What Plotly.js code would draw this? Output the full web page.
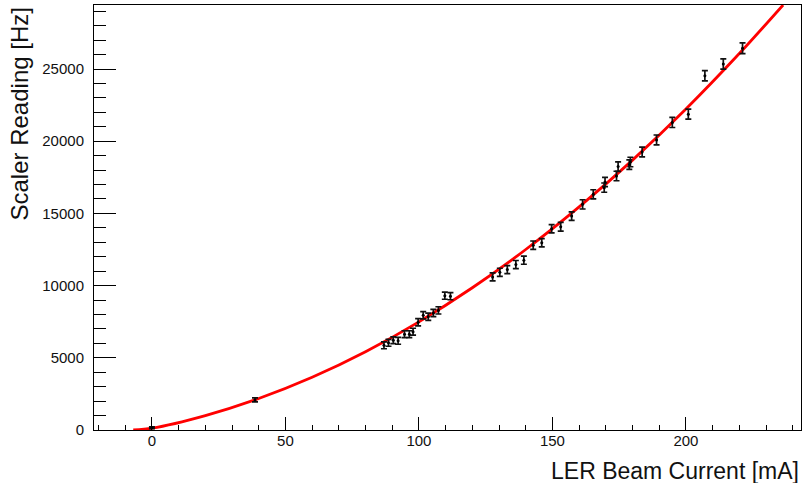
<!DOCTYPE html>
<html>
<head>
<meta charset="utf-8">
<script src="https://cdn.plot.ly/plotly-3.0.1.min.js"></script>
<style>
  html, body { margin: 0; padding: 0; background: #ffffff; }
  #chart { width: 803px; height: 483px; }
</style>
</head>
<body>
<div id="chart"></div>
<script>
// Measured data points: LER beam current [mA] vs scaler reading [Hz]
const beamCurrent = [0, 38.6,
  86.9, 88.6, 90.4, 92.2, 94.6, 96.4, 97.8, 99.7, 101.6, 103.5, 105.4, 107.3, 109.7, 111.8,
  127.6, 130.3, 133.1, 136.3, 139.3, 142.8, 146.0, 149.7, 153.1, 157.2,
  161.3, 165.3, 169.4, 169.7, 174.0, 174.6, 178.8, 179.2, 183.6, 189.0,
  194.9, 200.9, 207.1, 214.0, 221.2];
const scalerRate = [150, 2083,
  5868, 6041, 6215, 6180, 6632, 6632, 6805, 7465, 7951, 7847, 8104, 8284, 9305, 9270,
  10604, 10923, 11110, 11458, 11757, 12798, 12965, 13937, 14076, 14812,
  15625, 16319, 16784, 17177, 17590, 18242, 18380, 18560, 19256, 20090,
  21297, 21874, 24533, 25346, 26436];
const rateError = [60, 140,
  240, 240, 240, 240, 240, 240, 240, 250, 250, 250, 250, 250, 250, 250,
  280, 280, 280, 280, 280, 290, 290, 290, 300, 300,
  320, 320, 320, 320, 330, 330, 330, 330, 340, 340,
  350, 350, 360, 360, 370];

// Fit curve
const fitCurrent = [-7, 0, 20, 40, 60, 80, 100, 120, 140, 160, 180, 200, 220, 236.4];
const fitRate    = [0, 125, 1000, 2180, 3650, 5420, 7490, 9850, 12500, 15450, 18690, 22230, 26070, 29432];

// Axis tick labels
const xTickVals = [0, 50, 100, 150, 200];
const yTickVals = [0, 5000, 10000, 15000, 20000, 25000];

const FONT = "Liberation Sans, Arial, Helvetica, sans-serif";

const traces = [
  {
    x: fitCurrent, y: fitRate,
    type: 'scatter', mode: 'lines',
    line: {color: '#ff0000', width: 2.8, shape: 'spline', smoothing: 0.8},
    hoverinfo: 'skip', showlegend: false
  },
  {
    x: beamCurrent, y: scalerRate,
    type: 'scatter', mode: 'markers',
    marker: {color: '#000000', size: 3},
    error_y: {type: 'data', array: rateError, visible: true, color: '#111111', thickness: 1.7, width: 3},
    showlegend: false
  }
];

const layout = {
  width: 803, height: 483,
  margin: {l: 94, r: 2, t: 5, b: 53},
  paper_bgcolor: '#ffffff', plot_bgcolor: '#ffffff',
  font: {family: FONT, color: '#111111', size: 15},
  showlegend: false,
  xaxis: {
    range: [-21.7, 243.1],
    tickvals: xTickVals, ticktext: xTickVals.map(String),
    ticks: 'inside', ticklen: 13, tickwidth: 1, tickcolor: '#000',
    minor: {dtick: 10, tick0: 0, ticks: 'inside', ticklen: 5, tickwidth: 1, tickcolor: '#000', showgrid: false},
    showline: true, linecolor: '#000', linewidth: 1, mirror: true,
    showgrid: false, zeroline: false,
    ticklabelstandoff: -3,
    tickfont: {family: FONT, size: 15, color: '#111'}
  },
  yaxis: {
    range: [0, 29432],
    tickvals: yTickVals, ticktext: yTickVals.map(String),
    ticks: 'inside', ticklen: 22, tickwidth: 1, tickcolor: '#000',
    minor: {dtick: 1000, tick0: 0, ticks: 'inside', ticklen: 12, tickwidth: 1, tickcolor: '#000', showgrid: false},
    showline: true, linecolor: '#000', linewidth: 1, mirror: true,
    showgrid: false, zeroline: false,
    ticklabelstandoff: 6,
    tickfont: {family: FONT, size: 15, color: '#111'}
  },
  annotations: [
    {
      text: 'LER Beam Current [mA]',
      xref: 'paper', yref: 'paper', x: 1, y: 0,
      xanchor: 'right', yanchor: 'top', yshift: -26,
      showarrow: false,
      font: {family: FONT, size: 23, color: '#111'}
    },
    {
      text: 'Scaler Reading [Hz]',
      xref: 'paper', yref: 'paper', x: 0, y: 1,
      xanchor: 'center', yanchor: 'top', xshift: -75, yshift: -1,
      textangle: -90,
      showarrow: false,
      font: {family: FONT, size: 24, color: '#111'}
    }
  ]
};

Plotly.newPlot('chart', traces, layout, {staticPlot: true, displayModeBar: false});
</script>
</body>
</html>
